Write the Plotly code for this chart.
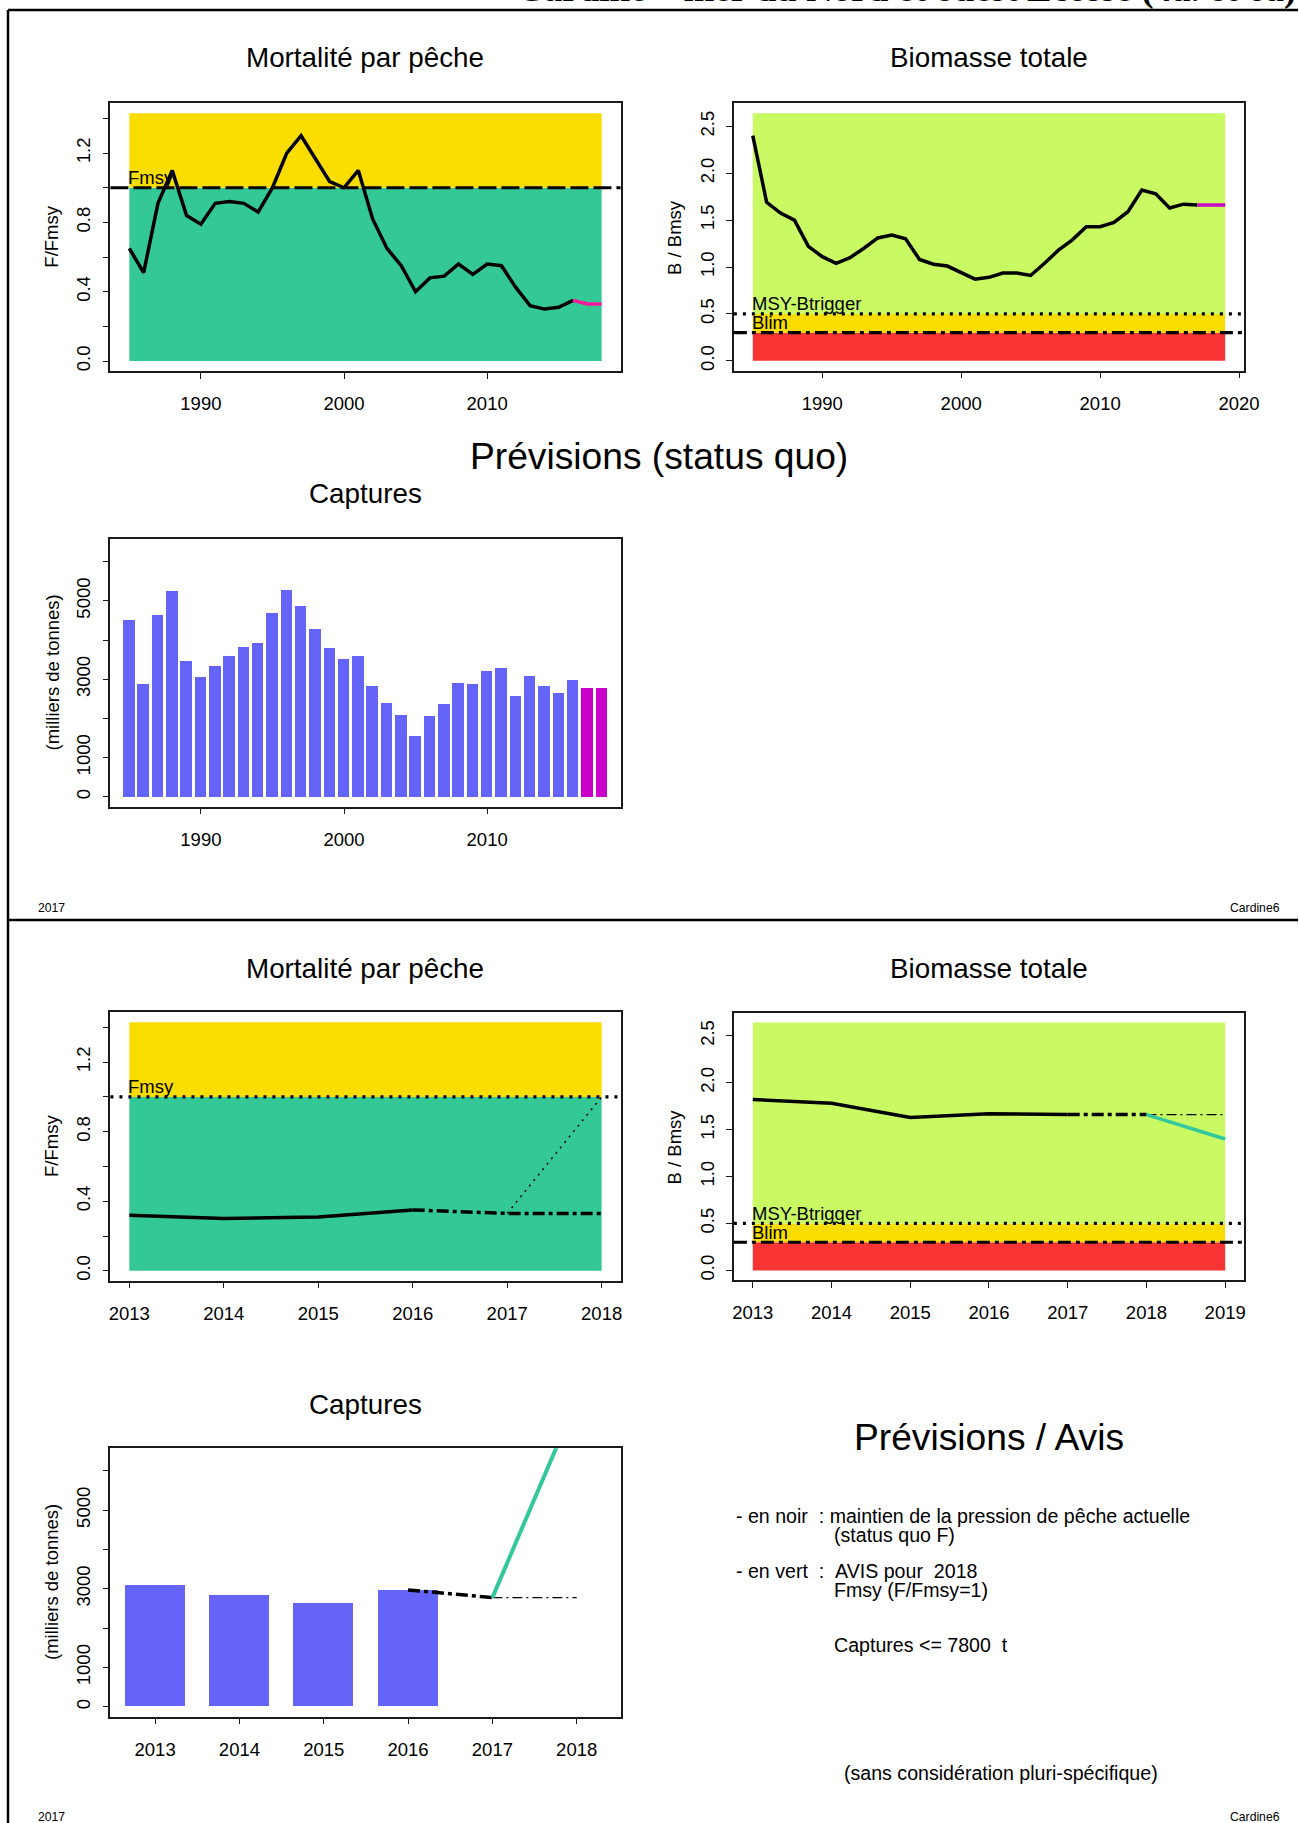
import plotly.graph_objects as go

# ---------------- data ----------------
f_years = list(range(1985, 2019))
f_ratio = [0.65, 0.51, 0.91, 1.10, 0.84, 0.79, 0.91, 0.92, 0.91, 0.86,
           1.00, 1.20, 1.30, 1.165, 1.035, 1.00, 1.10, 0.82, 0.65, 0.55,
           0.40, 0.48, 0.49, 0.56, 0.50, 0.56, 0.55, 0.425, 0.32, 0.30,
           0.31, 0.35, 0.33, 0.33]

b_years = list(range(1985, 2020))
b_ratio = [2.40, 1.69, 1.575, 1.50, 1.22, 1.11, 1.04, 1.10, 1.20, 1.31,
           1.34, 1.30, 1.08, 1.03, 1.01, 0.94, 0.87, 0.89, 0.935, 0.935,
           0.91, 1.04, 1.18, 1.29, 1.43, 1.43, 1.475, 1.59, 1.82, 1.78,
           1.63, 1.67, 1.66, 1.66, 1.66]

c_years = list(range(1985, 2019))
catches = [4510, 2870, 4630, 5235, 3460, 3060, 3330, 3595, 3825, 3915,
           4680, 5265, 4870, 4275, 3790, 3515, 3585, 2820, 2380, 2085,
           1540, 2065, 2370, 2895, 2880, 3205, 3270, 2555, 3085, 2830,
           2640, 2970, 2775, 2775]

F_MSY = 1.0
MSY_BTRIGGER = 0.5
B_LIM = 0.3
LAST_F_YEAR = 2016      # last assessed F / catch year
LAST_B_YEAR = 2017      # last assessed biomass year
ZOOM_FIRST = 2013

adv_f_years = [2017, 2018]
adv_f = [0.33, 1.0]
adv_b_years = [2018, 2019]
adv_b = [1.66, 1.40]
adv_c_years = [2017, 2018]
adv_c = [2775, 7800]

f_tickvals = [0.0, 0.2, 0.4, 0.6, 0.8, 1.0, 1.2, 1.4]
f_ticktext = ["0.0", "", "0.4", "", "0.8", "", "1.2", ""]
b_tickvals = [0.0, 0.5, 1.0, 1.5, 2.0, 2.5]
b_ticktext = ["0.0", "0.5", "1.0", "1.5", "2.0", "2.5"]
c_tickvals = [0, 1000, 2000, 3000, 4000, 5000, 6000]
c_ticktext = ["0", "1000", "", "3000", "", "5000", ""]
x_ticks_long = [1990, 2000, 2010]
x_ticks_long_b = [1990, 2000, 2010, 2020]
x_ticks_zoom_f = [2013, 2014, 2015, 2016, 2017, 2018]
x_ticks_zoom_b = [2013, 2014, 2015, 2016, 2017, 2018, 2019]

# ---------------- style ----------------
W, H = 1299, 1823          # reference picture size (positions measured in it)
FIG_W = 1314               # layout width (page capture is ~15px wider than 1299)
FONT = "Liberation Sans, Arial, sans-serif"
YELLOW = "#F9DC00"
FGREEN = "#33C896"
BGREEN = "#C9FA64"
RED = "#F93434"
BAR = "#6464F8"
PINK = "#F7189C"
MAG = "#C800C8"
ADV = "#33C79C"
AX = "#1a1a1a"


def ext(lo, hi):
    d = (hi - lo) * 0.04
    return [lo - d, hi + d]


def sub(xs, ys, lo, hi):
    pts = [(x, y) for x, y in zip(xs, ys) if lo <= x <= hi]
    return [p[0] for p in pts], [p[1] for p in pts]


def xn(k):
    return "x" if k == "1" else "x" + k


def yn(k):
    return "y" if k == "1" else "y" + k


ylim_f = 1.1 * max(f_ratio)
ylim_b = 1.1 * max(b_ratio)
ylim_c = 1.2 * max(catches)

# panel boxes in pixels (left, right, top, bottom)
boxes = {
    "1": (109.6, 620.5, 103.3, 371.0),
    "2": (734.0, 1245.0, 103.3, 370.7),
    "3": (109.6, 620.5, 539.3, 806.7),
    "4": (109.6, 620.5, 1012.3, 1280.7),
    "5": (734.0, 1245.0, 1012.7, 1280.3),
    "6": (109.6, 620.5, 1448.3, 1716.7),
}


def px(x):
    return x / W


def py(y):
    return 1 - y / H


fig = go.Figure()


def line(k, x, y, color="black", width=3.5, dash="solid"):
    fig.add_trace(go.Scatter(x=x, y=y, mode="lines", xaxis=xn(k), yaxis=yn(k),
                             line=dict(color=color, width=width, dash=dash),
                             showlegend=False, hoverinfo="skip"))


# ---- panel 1: F (full series)
x, y = sub(f_years, f_ratio, f_years[0], LAST_F_YEAR)
line("1", x, y)
x, y = sub(f_years, f_ratio, LAST_F_YEAR, f_years[-1])
line("1", x, y, color=PINK)

# ---- panel 2: B (full series)
x, y = sub(b_years, b_ratio, b_years[0], LAST_B_YEAR)
line("2", x, y)
x, y = sub(b_years, b_ratio, LAST_B_YEAR, b_years[-1])
line("2", x, y, color=MAG)

# ---- panel 3: catches
fig.add_trace(go.Bar(x=c_years, y=catches, width=0.8, xaxis="x3", yaxis="y3",
                     marker=dict(color=[BAR if yr <= LAST_F_YEAR else MAG for yr in c_years],
                                 line=dict(width=0)),
                     showlegend=False, hoverinfo="skip"))

# ---- panel 4: F zoom
x, y = sub(f_years, f_ratio, ZOOM_FIRST, LAST_F_YEAR)
line("4", x, y)
x, y = sub(f_years, f_ratio, LAST_F_YEAR, f_years[-1])
line("4", x, y, dash="12px,4px,4px,4px")
line("4", adv_f_years, adv_f, width=1.5, dash="2px,5px")

# ---- panel 5: B zoom
x, y = sub(b_years, b_ratio, ZOOM_FIRST, LAST_B_YEAR)
line("5", x, y)
x, y = sub(b_years, b_ratio, LAST_B_YEAR, LAST_B_YEAR + 1)
line("5", x, y, dash="12px,4px,4px,4px")
x, y = sub(b_years, b_ratio, LAST_B_YEAR + 1, b_years[-1])
line("5", x, y, width=1.3, dash="10px,4px,2px,4px")
line("5", adv_b_years, adv_b, color=ADV, width=3.5)

# ---- panel 6: catch zoom
zx, zy = sub(c_years, catches, ZOOM_FIRST, LAST_F_YEAR)
fig.add_trace(go.Bar(x=zx, y=zy, width=0.71, xaxis="x6", yaxis="y6",
                     marker=dict(color=BAR, line=dict(width=0)),
                     showlegend=False, hoverinfo="skip"))
x, y = sub(c_years, catches, LAST_F_YEAR, LAST_F_YEAR + 1)
line("6", x, y, dash="12px,4px,4px,4px")
x, y = sub(c_years, catches, LAST_F_YEAR + 1, c_years[-1])
line("6", x, y, width=1.3, dash="10px,4px,2px,4px")
line("6", adv_c_years, adv_c, color=ADV, width=4)

# ---------------- axes ----------------
xranges = {"1": ext(f_years[0], f_years[-1]), "2": ext(b_years[0], b_years[-1]),
           "3": ext(c_years[0], c_years[-1]), "4": ext(ZOOM_FIRST, f_years[-1]),
           "5": ext(ZOOM_FIRST, b_years[-1]), "6": [2012.47, 2018.52]}
xticks = {"1": x_ticks_long, "2": x_ticks_long_b, "3": x_ticks_long,
          "4": x_ticks_zoom_f, "5": x_ticks_zoom_b, "6": x_ticks_zoom_f}
yranges = {"1": ext(0, ylim_f), "2": ext(0, ylim_b), "3": ext(0, ylim_c),
           "4": ext(0, ylim_f), "5": ext(0, ylim_b), "6": ext(0, ylim_c)}
yticks = {"1": (f_tickvals, f_ticktext), "2": (b_tickvals, b_ticktext),
          "3": (c_tickvals, c_ticktext), "4": (f_tickvals, f_ticktext),
          "5": (b_tickvals, b_ticktext), "6": (c_tickvals, c_ticktext)}

common = dict(showline=True, linecolor=AX, linewidth=1.5, mirror=True, ticks="outside",
              ticklen=6, tickwidth=1.3, tickcolor=AX, showgrid=False, zeroline=False,
              tickfont=dict(family=FONT, size=18.5, color="black"), fixedrange=True)

axes = {}
for k, (l, r, t, b) in boxes.items():
    sfx = "" if k == "1" else k
    axes["xaxis" + sfx] = dict(common, domain=[px(l), px(r)], range=xranges[k],
                               anchor=yn(k), tickmode="array", tickvals=xticks[k],
                               ticktext=[str(v) for v in xticks[k]], ticklabelstandoff=9)
    axes["yaxis" + sfx] = dict(common, domain=[py(b), py(t)], range=yranges[k],
                               anchor=xn(k), tickmode="array", tickvals=yticks[k][0],
                               ticktext=yticks[k][1], tickangle=-90, ticklabelstandoff=5)
fig.update_layout(**axes)

# ---------------- zones & reference lines ----------------
shapes = []


def rect(k, x0, x1, y0, y1, color):
    shapes.append(dict(type="rect", xref=xn(k), yref=yn(k), x0=x0, x1=x1, y0=y0, y1=y1,
                       fillcolor=color, line=dict(width=0), layer="below"))


def hline(k, yv, dash, width=3):
    shapes.append(dict(type="line", xref=xn(k) + " domain", yref=yn(k), x0=0, x1=1,
                       y0=yv, y1=yv, line=dict(color="black", width=width, dash=dash),
                       layer="above"))


for k, x0, x1 in (("1", f_years[0], f_years[-1]), ("4", ZOOM_FIRST, f_years[-1])):
    rect(k, x0, x1, 0, F_MSY, FGREEN)
    rect(k, x0, x1, F_MSY, ylim_f, YELLOW)
for k, x0, x1 in (("2", b_years[0], b_years[-1]), ("5", ZOOM_FIRST, b_years[-1])):
    rect(k, x0, x1, 0, B_LIM, RED)
    rect(k, x0, x1, B_LIM, MSY_BTRIGGER, YELLOW)
    rect(k, x0, x1, MSY_BTRIGGER, ylim_b, BGREEN)
    hline(k, MSY_BTRIGGER, "3px,6px", 3.2)
    hline(k, B_LIM, "13px,5px,4px,5px", 3.2)
hline("1", F_MSY, "18px,5px", 3.2)
hline("4", F_MSY, "3px,6px", 3.2)

# page frame
shapes.append(dict(type="line", xref="paper", yref="paper", x0=px(7), x1=px(7),
                   y0=0, y1=py(10), line=dict(color="black", width=2.5)))
for yy in (10, 920):
    shapes.append(dict(type="line", xref="paper", yref="paper", x0=px(7), x1=1,
                       y0=py(yy), y1=py(yy), line=dict(color="black", width=2.5)))
fig.update_layout(shapes=shapes)

# ---------------- texts ----------------
ann = []


def txt(text, x, y, size, xanchor="center", yanchor="middle", angle=0, family=FONT):
    ann.append(dict(text=text, x=px(x), y=py(y), xref="paper", yref="paper",
                    xanchor=xanchor, yanchor=yanchor, showarrow=False, textangle=angle,
                    font=dict(family=family, size=size, color="black")))


def ref_label(k, text, xv, yv):
    ann.append(dict(text=text, x=xv, y=yv, xref=xn(k), yref=yn(k), xanchor="left",
                    yanchor="middle", yshift=10, xshift=-3, showarrow=False,
                    font=dict(family=FONT, size=18.5, color="black")))


# page header (cut by the top edge, as in the reference)
txt("<b>Cardine \u2013 mer du Nord et ouest Ecosse (4a. et 6a)</b>", 1299, 12, 37,
    xanchor="right", yanchor="bottom", family="Liberation Serif, Times New Roman, serif")

for y0 in (57, 968):
    txt("Mortalit\u00e9 par p\u00eache", 365, y0, 27.8)
    txt("Biomasse totale", 989.5, y0, 27.8)
txt("Captures", 365, 493, 27.8)
txt("Captures", 365, 1404, 27.8)
txt("Pr\u00e9visions (status quo)", 659, 456, 37.2)
txt("Pr\u00e9visions / Avis", 990, 1437, 37.2)

NB = "\u00a0"
TS = 19.6
txt("- en noir" + NB * 2 + ": maintien de la pression de p\u00eache actuelle", 734, 1516, TS, xanchor="left")
txt("(status quo F)", 832, 1535, TS, xanchor="left")
txt("- en vert" + NB * 2 + ":" + NB * 2 + "AVIS pour" + NB * 2 + "2018", 734, 1571, TS, xanchor="left")
txt("Fmsy (F/Fmsy=1)", 832, 1590, TS, xanchor="left")
txt("Captures <= " + str(adv_c[-1]) + NB * 2 + "t", 832, 1645, TS, xanchor="left")
txt("(sans consid\u00e9ration pluri-sp\u00e9cifique)", 1002, 1773, TS)

for yy in (908, 1817):
    txt("2017", 35, yy, 12.2, xanchor="left")
    txt("Cardine6", 1283, yy, 12.2, xanchor="right")

# axis titles
for k, label in (("1", "F/Fmsy"), ("2", "B / Bmsy"), ("3", "(milliers de tonnes)"),
                 ("4", "F/Fmsy"), ("5", "B / Bmsy"), ("6", "(milliers de tonnes)")):
    l, r, t, b = boxes[k]
    txt(label, l - 59, (t + b) / 2, 18.5, angle=-90)

ref_label("1", "Fmsy", f_years[0], F_MSY)
ref_label("4", "Fmsy", ZOOM_FIRST, F_MSY)
for k, x0 in (("2", b_years[0]), ("5", ZOOM_FIRST)):
    ref_label(k, "MSY-Btrigger", x0, MSY_BTRIGGER)
    ref_label(k, "Blim", x0, B_LIM)

fig.update_layout(annotations=ann, width=FIG_W, height=H, autosize=False,
                  margin=dict(l=0, r=0, t=0, b=0), paper_bgcolor="white",
                  plot_bgcolor="white", bargap=0, barmode="overlay",
                  font=dict(family=FONT, color="black"))

post = "document.body.style.margin='0';document.documentElement.style.overflow='hidden';document.body.style.overflow='hidden';"
fig.write_html("out.html", config={"responsive": False, "displayModeBar": False},
               post_script=post)
